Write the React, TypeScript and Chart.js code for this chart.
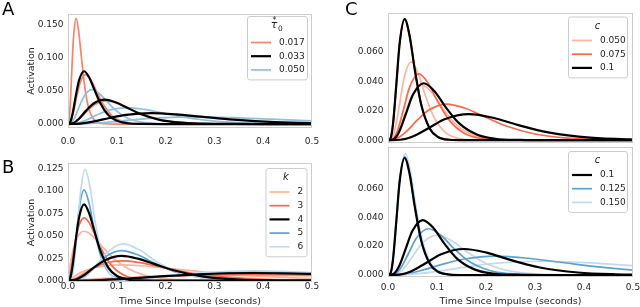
import React, { useEffect, useRef } from "react";
import { Chart, registerables } from "chart.js";
Chart.register(...registerables);

type Pt = [number, number];

// ---------- tick values & legend labels ----------
const xTickValues = [0, 0.1, 0.2, 0.3, 0.4, 0.5];
const aYTicks = [0, 0.05, 0.1, 0.15];
const bYTicks = [0, 0.025, 0.05, 0.075, 0.1, 0.125];
const cYTicks = [0, 0.02, 0.04, 0.06];
const aLegendLabels = ["0.017", "0.033", "0.050"];
const bLegendLabels = ["2", "3", "4", "5", "6"];
const cTopLegendLabels = ["0.050", "0.075", "0.1"];
const cBotLegendLabels = ["0.1", "0.125", "0.150"];
const yTitle = "Activation";
const xTitle = "Time Since Impulse (seconds)";

// ---------- Panel A (tau0*) ----------
const aRed1: Pt[] = [[0,0],[.0025,.0069],[.005,.0352],[.0083,.0896],[.0116,.1344],[.0165,.16],[.0215,.1424],[.0264,.1088],[.033,.064],[.0413,.0272],[.0495,.0107],[.0611,.0024],[.0743,.0004],[.099,0],[.6,0]];
const aRed2: Pt[] = [[0,0],[.0054,.0032],[.0108,.0165],[.018,.042],[.0252,.063],[.036,.075],[.0468,.0668],[.0576,.051],[.072,.03],[.09,.0128],[.108,.005],[.1332,.0011],[.162,.0002],[.216,0],[.6,0]];
const aRed3: Pt[] = [[0,0],[.0117,.0015],[.0234,.0077],[.039,.0196],[.0546,.0294],[.078,.035],[.1014,.0312],[.1248,.0238],[.156,.014],[.195,.006],[.234,.0023],[.2886,.0005],[.351,.0001],[.468,0],[.6,0]];
const aBlack1: Pt[] = [[0,0],[.005,.0034],[.0099,.0176],[.0165,.0448],[.0231,.0672],[.033,.08],[.0429,.0712],[.0528,.0544],[.066,.032],[.0825,.0136],[.099,.0054],[.1221,.0012],[.1485,.0002],[.198,0],[.6,0]];
const aBlack2: Pt[] = [[0,0],[.0113,.0016],[.0225,.0081],[.0375,.0207],[.0525,.0311],[.075,.037],[.0975,.0329],[.12,.0252],[.15,.0148],[.1875,.0063],[.225,.0025],[.2775,.0006],[.3375,.0001],[.45,0],[.6,0]];
const aBlack3: Pt[] = [[0,0],[.0255,.0007],[.051,.0036],[.085,.0092],[.119,.0139],[.17,.0165],[.221,.0147],[.272,.0112],[.34,.0066],[.425,.0028],[.51,.0011],[.629,.0002]];
const aBlue1: Pt[] = [[0,0],[.0074,.0022],[.0147,.0114],[.0245,.0291],[.0343,.0437],[.049,.052],[.0637,.0463],[.0784,.0354],[.098,.0208],[.1225,.0088],[.147,.0035],[.1813,.0008],[.2205,.0001],[.294,0],[.6,0]];
const aBlue2: Pt[] = [[0,0],[.018,.0011],[.036,.0055],[.06,.014],[.084,.021],[.12,.025],[.156,.0223],[.192,.017],[.24,.01],[.3,.0043],[.36,.0017],[.444,.0004],[.54,.0001]];
const aBlue3: Pt[] = [[0,0],[.039,.0005],[.078,.0024],[.13,.0062],[.182,.0092],[.26,.011],[.338,.0098],[.416,.0075],[.52,.0044],[.65,.0019]];

// ---------- Panel B (k) ----------
const bK2a: Pt[] = [[0,0],[.005,.0193],[.0099,.0332],[.0165,.0453],[.0231,.052],[.033,.055],[.0429,.053],[.0528,.0483],[.066,.0405],[.0825,.0307],[.099,.0223],[.1221,.0137],[.1485,.0075],[.198,.0022],[.264,.0004],[.396,0],[.6,0]];
const bK2b: Pt[] = [[0,0],[.0165,.0061],[.033,.0106],[.055,.0144],[.077,.0165],[.11,.0175],[.143,.0169],[.176,.0154],[.22,.0129],[.275,.0098],[.33,.0071],[.407,.0044],[.495,.0024],[.66,.0007],[.88,.0001]];
const bK2c: Pt[] = [[0,0],[.057,.0019],[.114,.0033],[.19,.0045],[.266,.0052],[.38,.0055],[.494,.0053],[.608,.0048],[.76,.004]];
const bK3a: Pt[] = [[0,0],[.005,.0086],[.0099,.0256],[.0165,.0476],[.0231,.0625],[.033,.07],[.0429,.0649],[.0528,.054],[.066,.0379],[.0825,.0218],[.099,.0116],[.1221,.0043],[.1485,.0013],[.198,.0001],[.6,0]];
const bK3b: Pt[] = [[0,0],[.0165,.0027],[.033,.008],[.055,.015],[.077,.0196],[.11,.022],[.143,.0204],[.176,.017],[.22,.0119],[.275,.0068],[.33,.0036],[.407,.0014],[.495,.0004],[.66,0]];
const bK3c: Pt[] = [[0,0],[.057,.0009],[.114,.0026],[.19,.0048],[.266,.0063],[.38,.007],[.494,.0065],[.608,.0054],[.76,.0038]];
const bK4a: Pt[] = [[0,0],[.005,.0037],[.0099,.0187],[.0165,.0476],[.0231,.0714],[.033,.085],[.0429,.0757],[.0528,.0578],[.066,.034],[.0825,.0145],[.099,.0057],[.1221,.0013],[.1485,.0002],[.198,0],[.6,0]];
const bK4b: Pt[] = [[0,0],[.0165,.0012],[.033,.0061],[.055,.0154],[.077,.0231],[.11,.0275],[.143,.0245],[.176,.0187],[.22,.011],[.275,.0047],[.33,.0018],[.407,.0004],[.495,.0001],[.66,0]];
const bK4c: Pt[] = [[0,0],[.057,.0004],[.114,.0019],[.19,.0048],[.266,.0071],[.38,.0085],[.494,.0076],[.608,.0058],[.76,.0034]];
const bK5a: Pt[] = [[0,0],[.005,.0015],[.0099,.0134],[.0165,.0465],[.0231,.0808],[.033,.101],[.0429,.0869],[.0528,.0596],[.066,.0293],[.0825,.0098],[.099,.0027],[.1221,.0004],[.1485,0],[.6,0]];
const bK5b: Pt[] = [[0,0],[.0165,.0005],[.033,.0045],[.055,.0154],[.077,.0268],[.11,.0335],[.143,.0288],[.176,.0198],[.22,.0097],[.275,.0032],[.33,.0009],[.407,.0001],[.495,0],[.66,0]];
const bK5c: Pt[] = [[0,0],[.057,.0001],[.114,.0013],[.19,.0044],[.266,.0076],[.38,.0095],[.494,.0082],[.608,.0056],[.76,.0028]];
const bK6a: Pt[] = [[0,0],[.0053,.0006],[.0105,.0099],[.0175,.0471],[.0245,.093],[.035,.124],[.0455,.1029],[.056,.0645],[.07,.0273],[.0875,.0067],[.105,.0014],[.1295,.0001],[.1575,0],[.6,0]];
const bK6b: Pt[] = [[0,0],[.017,.0002],[.0339,.0033],[.0565,.0156],[.0791,.0308],[.113,.041],[.1469,.034],[.1808,.0213],[.226,.009],[.2825,.0022],[.339,.0005],[.4181,0],[.66,0]];
const bK6c: Pt[] = [[0,0],[.057,.0001],[.114,.0009],[.19,.0042],[.266,.0083],[.38,.011],[.494,.0091],[.608,.0057],[.76,.0024]];

// ---------- Panel C top (c = 0.050, 0.075, 0.1) ----------
const cFirst: Pt[] = [[0,0],[.0051,.0012],[.0102,.0109],[.017,.0377],[.0238,.0656],[.034,.082],[.0442,.0705],[.0544,.0484],[.068,.0238],[.085,.008],[.102,.0022],[.1258,.0003],[.153,0],[.6,0]];
const cTopBlack2: Pt[] = [[0,0],[.011,.0006],[.0219,.0051],[.0365,.0178],[.0511,.0309],[.073,.0386],[.0949,.0332],[.1168,.0228],[.146,.0112],[.1825,.0037],[.219,.001],[.2701,.0002],[.3285,0],[.6,0]];
const cTopBlack3: Pt[] = [[0,0],[.0248,.0003],[.0495,.0024],[.0825,.0081],[.1155,.0142],[.165,.0177],[.2145,.0152],[.264,.0104],[.33,.0051],[.4125,.0017],[.495,.0005],[.6105,.0001]];
const cTopSalmon2: Pt[] = [[0,0],[.0071,.0008],[.0141,.007],[.0235,.0244],[.0329,.0424],[.047,.053],[.0611,.0456],[.0752,.0313],[.094,.0154],[.1175,.0051],[.141,.0014],[.1739,.0002],[.2115,0],[.6,0]];
const cTopSalmon3: Pt[] = [[0,0],[.0104,.0006],[.0207,.005],[.0345,.0173],[.0483,.03],[.069,.0375],[.0897,.0323],[.1104,.0221],[.138,.0109],[.1725,.0036],[.207,.001],[.2553,.0002],[.3105,0],[.6,0]];
const cTopRed2: Pt[] = [[0,0],[.0095,.0007],[.0189,.006],[.0315,.0207],[.0441,.036],[.063,.045],[.0819,.0387],[.1008,.0266],[.126,.0131],[.1575,.0044],[.189,.0012],[.2331,.0002],[.2835,0],[.6,0]];
const cTopRed3: Pt[] = [[0,0],[.018,.0011],[.036,.0054],[.06,.0137],[.084,.0206],[.12,.0245],[.156,.0218],[.192,.0167],[.24,.0098],[.3,.0042],[.36,.0016],[.444,.0004],[.54,.0001]];

// ---------- Panel C bottom (c = 0.1, 0.125, 0.150) ----------
const cBotBlack1: Pt[] = [[0,0],[.0051,.0012],[.0102,.0108],[.017,.0373],[.0238,.0648],[.034,.081],[.0442,.0697],[.0544,.0478],[.068,.0235],[.085,.0079],[.102,.0022],[.1258,.0003],[.153,0],[.6,0]];
const cBotBlack2: Pt[] = [[0,0],[.0107,.0006],[.0213,.0051],[.0355,.0175],[.0497,.0304],[.071,.038],[.0923,.0327],[.1136,.0224],[.142,.011],[.1775,.0037],[.213,.001],[.2627,.0002],[.3195,0],[.6,0]];
const cBotBlack3: Pt[] = [[0,0],[.0233,.0003],[.0465,.0024],[.0775,.0083],[.1085,.0144],[.155,.018],[.2015,.0155],[.248,.0106],[.31,.0052],[.3875,.0017],[.465,.0005],[.5735,.0001]];
const cBotBlue2: Pt[] = [[0,0],[.0125,.0005],[.0249,.0043],[.0415,.0147],[.0581,.0256],[.083,.032],[.1079,.0275],[.1328,.0189],[.166,.0093],[.2075,.0031],[.249,.0009],[.3071,.0001],[.3735,0],[.6,0]];
const cBotBlue3: Pt[] = [[0,0],[.033,.0006],[.066,.0029],[.11,.0073],[.154,.0109],[.22,.013],[.286,.0116],[.352,.0088],[.44,.0052],[.55,.0022],[.66,.0009]];
const cBotLight1: Pt[] = [[0,0],[.0053,.0013],[.0105,.0112],[.0175,.0386],[.0245,.0672],[.035,.084],[.0455,.0722],[.056,.0496],[.07,.0244],[.0875,.0081],[.105,.0023],[.1295,.0003],[.1575,0],[.6,0]];
const cBotLight2: Pt[] = [[0,0],[.015,.0004],[.03,.0037],[.05,.0127],[.07,.0221],[.1,.0276],[.13,.0237],[.16,.0163],[.2,.008],[.25,.0027],[.3,.0007],[.37,.0001],[.45,0],[.6,0]];
const cBotLight3: Pt[] = [[0,0],[.0465,.0004],[.093,.0021],[.155,.0053],[.217,.008],[.31,.0095],[.403,.0085],[.496,.0065],[.62,.0038]];

// ---------- styles ----------
const FONT = "'DejaVu Sans', sans-serif";
const TEXT = "#262626";
const EDGE = "#cccccc";
const BLACK = "#000000";
const A_RED = "#f6836a";
const A_BLUE = "#8ec0e2";
const SALMON = "#fcb49a";
const RED = "#f8694b";
const BLUE = "#5aa3d1";
const LIGHTBLUE = "#c2daef";
const LW_BLACK = 2.2;
const LW = 1.7;

type Series = { data: Pt[]; color: string; width: number };
type LegendSpec = {
  left: number; top: number; width: number; firstOffset: number;
  title: (ctx: CanvasRenderingContext2D, cx: number, top: number) => void;
  labels: string[]; colors: string[]; widths: number[];
};
type PanelSpec = {
  left: number; top: number; width: number; height: number;
  padding: { top: number; right: number; bottom: number; left: number };
  yWidth: number; xHeight: number; showXTicks: boolean; xTickPad: number;
  yMin: number; yMax: number; yTicks: number[]; yDigits: number;
  yTitle?: string; xTitle?: string;
  series: Series[]; // bottom -> top drawing order
  legend: LegendSpec;
};

const italicTitle = (txt: string, dy: number) => (ctx: CanvasRenderingContext2D, cx: number, top: number) => {
  ctx.font = `italic 10px ${FONT}`;
  ctx.fillStyle = TEXT;
  ctx.textAlign = "center";
  ctx.textBaseline = "middle";
  ctx.fillText(txt, cx, top + dy);
};

const tauTitle = (ctx: CanvasRenderingContext2D, cx: number, top: number) => {
  ctx.fillStyle = TEXT;
  ctx.textAlign = "center";
  ctx.textBaseline = "middle";
  ctx.font = `italic 11px ${FONT}`;
  ctx.fillText("τ", cx - 3, top + 9.5);
  ctx.font = `8px ${FONT}`;
  ctx.fillText("*", cx - 2.5, top + 5);
  ctx.font = `7.5px ${FONT}`;
  ctx.fillText("0", cx + 3.5, top + 13);
};

const panels: PanelSpec[] = [
  {
    left: 0, top: 0, width: 320, height: 150,
    padding: { top: 14, right: 8, bottom: 0, left: 0 },
    yWidth: 68, xHeight: 22, showXTicks: true, xTickPad: 9,
    yMin: -0.006, yMax: 0.1667, yTicks: aYTicks, yDigits: 3, yTitle,
    series: [
      { data: aRed1, color: A_RED, width: LW }, { data: aRed2, color: A_RED, width: LW }, { data: aRed3, color: A_RED, width: LW },
      { data: aBlue1, color: A_BLUE, width: LW }, { data: aBlue2, color: A_BLUE, width: LW }, { data: aBlue3, color: A_BLUE, width: LW },
      { data: aBlack1, color: BLACK, width: LW_BLACK }, { data: aBlack2, color: BLACK, width: LW_BLACK }, { data: aBlack3, color: BLACK, width: LW_BLACK },
    ],
    legend: { left: 247, top: 16, width: 60, firstOffset: 26.5, title: tauTitle, labels: aLegendLabels, colors: [A_RED, BLACK, A_BLUE], widths: [LW, LW_BLACK, LW] },
  },
  {
    left: 0, top: 150, width: 320, height: 157,
    padding: { top: 13, right: 8, bottom: 0, left: 0 },
    yWidth: 68, xHeight: 25, showXTicks: true, xTickPad: 0,
    yMin: -0.0015, yMax: 0.131, yTicks: bYTicks, yDigits: 3, yTitle, xTitle,
    series: [
      { data: bK2a, color: SALMON, width: LW }, { data: bK2b, color: SALMON, width: LW }, { data: bK2c, color: SALMON, width: LW },
      { data: bK3a, color: RED, width: LW }, { data: bK3b, color: RED, width: LW }, { data: bK3c, color: RED, width: LW },
      { data: bK5a, color: BLUE, width: LW }, { data: bK5b, color: BLUE, width: LW }, { data: bK5c, color: BLUE, width: LW },
      { data: bK6a, color: LIGHTBLUE, width: LW }, { data: bK6b, color: LIGHTBLUE, width: LW }, { data: bK6c, color: LIGHTBLUE, width: LW },
      { data: bK4a, color: BLACK, width: LW_BLACK }, { data: bK4b, color: BLACK, width: LW_BLACK }, { data: bK4c, color: BLACK, width: LW_BLACK },
    ],
    legend: { left: 265.5, top: 18, width: 41, firstOffset: 24, title: italicTitle("k", 9.5), labels: bLegendLabels, colors: [SALMON, RED, BLACK, BLUE, LIGHTBLUE], widths: [LW, LW, LW_BLACK, LW, LW] },
  },
  {
    left: 320, top: 0, width: 320, height: 145,
    padding: { top: 13, right: 7, bottom: 0, left: 0 },
    yWidth: 68, xHeight: 2, showXTicks: false, xTickPad: 0,
    yMin: -0.0019, yMax: 0.0862, yTicks: cYTicks, yDigits: 3,
    series: [
      { data: cFirst, color: SALMON, width: LW }, { data: cTopSalmon2, color: SALMON, width: LW }, { data: cTopSalmon3, color: SALMON, width: LW },
      { data: cFirst, color: RED, width: LW }, { data: cTopRed2, color: RED, width: LW }, { data: cTopRed3, color: RED, width: LW },
      { data: cFirst, color: BLACK, width: LW_BLACK }, { data: cTopBlack2, color: BLACK, width: LW_BLACK }, { data: cTopBlack3, color: BLACK, width: LW_BLACK },
    ],
    legend: { left: 248, top: 16.5, width: 59, firstOffset: 24, title: italicTitle("c", 10), labels: cTopLegendLabels, colors: [SALMON, RED, BLACK], widths: [LW, LW, LW_BLACK] },
  },
  {
    left: 320, top: 145, width: 320, height: 162,
    padding: { top: 2, right: 7, bottom: 0, left: 0 },
    yWidth: 68, xHeight: 30, showXTicks: true, xTickPad: 6,
    yMin: -0.0014, yMax: 0.0886, yTicks: cYTicks, yDigits: 3, xTitle,
    series: [
      { data: cBotLight1, color: LIGHTBLUE, width: LW }, { data: cBotLight2, color: LIGHTBLUE, width: LW }, { data: cBotLight3, color: LIGHTBLUE, width: LW },
      { data: cFirst, color: BLUE, width: LW }, { data: cBotBlue2, color: BLUE, width: LW }, { data: cBotBlue3, color: BLUE, width: LW },
      { data: cBotBlack1, color: BLACK, width: LW_BLACK }, { data: cBotBlack2, color: BLACK, width: LW_BLACK }, { data: cBotBlack3, color: BLACK, width: LW_BLACK },
    ],
    legend: { left: 248, top: 6, width: 59, firstOffset: 24, title: italicTitle("c", 9.5), labels: cBotLegendLabels, colors: [BLACK, BLUE, LIGHTBLUE], widths: [LW_BLACK, LW, LW] },
  },
];

const SPACING = 13.7;

function makePlugins(spec: PanelSpec) {
  const frame = {
    id: "frame",
    afterDatasetsDraw(chart: any) {
      const { ctx, chartArea: a } = chart;
      ctx.save();
      ctx.strokeStyle = EDGE;
      ctx.lineWidth = 1;
      const l = Math.round(a.left), t = Math.round(a.top), r = Math.round(a.right), b = Math.round(a.bottom);
      ctx.strokeRect(l + 0.5, t + 0.5, r - l - 1, b - t - 1);
      ctx.restore();
    },
  };
  const legend = {
    id: "customLegend",
    afterDraw(chart: any) {
      const ctx: CanvasRenderingContext2D = chart.ctx;
      const L = spec.legend;
      const n = L.labels.length;
      const h = L.firstOffset + (n - 1) * SPACING + 9.5;
      const x = L.left + 0.5, y = L.top + 0.5, w = L.width, rr = 2.5;
      ctx.save();
      ctx.beginPath();
      ctx.moveTo(x + rr, y);
      ctx.arcTo(x + w, y, x + w, y + h, rr);
      ctx.arcTo(x + w, y + h, x, y + h, rr);
      ctx.arcTo(x, y + h, x, y, rr);
      ctx.arcTo(x, y, x + w, y, rr);
      ctx.closePath();
      ctx.fillStyle = "rgba(255,255,255,0.8)";
      ctx.fill();
      ctx.strokeStyle = EDGE;
      ctx.lineWidth = 1;
      ctx.stroke();
      L.title(ctx, L.left + L.width / 2, L.top);
      for (let i = 0; i < n; i++) {
        const yy = L.top + L.firstOffset + i * SPACING;
        ctx.beginPath();
        ctx.strokeStyle = L.colors[i];
        ctx.lineWidth = L.widths[i];
        ctx.moveTo(L.left + 4, yy);
        ctx.lineTo(L.left + 24, yy);
        ctx.stroke();
        ctx.fillStyle = TEXT;
        ctx.font = `9px ${FONT}`;
        ctx.textAlign = "left";
        ctx.textBaseline = "middle";
        ctx.fillText(L.labels[i], L.left + 32, yy);
      }
      ctx.restore();
    },
  };
  return [frame, legend];
}

function Panel({ spec }: { spec: PanelSpec }) {
  const ref = useRef<HTMLCanvasElement>(null);
  useEffect(() => {
    if (!ref.current) return;
    const tickFont = { family: FONT, size: 9, lineHeight: 1 };
    const titleFont = { family: FONT, size: 9.5 };
    const datasets = [...spec.series].reverse().map((s) => ({
      data: s.data as any,
      borderColor: s.color,
      borderWidth: s.width,
      pointRadius: 0,
      fill: false,
      cubicInterpolationMode: "monotone" as const,
      borderCapStyle: "round" as const,
      borderJoinStyle: "round" as const,
    }));
    const chart = new Chart(ref.current, {
      type: "line",
      data: { datasets },
      options: {
        animation: false,
        responsive: false,
        events: [],
        layout: { padding: spec.padding },
        plugins: { legend: { display: false }, tooltip: { enabled: false } },
        scales: {
          x: {
            type: "linear",
            min: 0,
            max: 0.5,
            grid: { display: false, drawTicks: false },
            border: { display: false },
            ticks: {
              display: spec.showXTicks,
              padding: spec.xTickPad,
              font: tickFont,
              color: TEXT,
              maxRotation: 0,
              autoSkip: false,
              callback: (v: any) => Number(v).toFixed(1),
            },
            title: {
              display: !!spec.xTitle,
              text: spec.xTitle || "",
              font: titleFont,
              color: TEXT,
              padding: { top: 0, bottom: 0 },
            },
            afterBuildTicks: (s: any) => {
              s.ticks = xTickValues.map((v) => ({ value: v }));
            },
            afterFit: (s: any) => {
              s.height = spec.xHeight;
              s.paddingLeft = 0;
              s.paddingRight = 0;
            },
          },
          y: {
            type: "linear",
            min: spec.yMin,
            max: spec.yMax,
            grid: { display: false, drawTicks: false },
            border: { display: false },
            ticks: {
              padding: 4.5,
              font: tickFont,
              color: TEXT,
              autoSkip: false,
              callback: (v: any) => Number(v).toFixed(spec.yDigits),
            },
            title: {
              display: !!spec.yTitle,
              text: spec.yTitle || "",
              font: titleFont,
              color: TEXT,
              padding: { top: 26, bottom: 0 },
            },
            afterBuildTicks: (s: any) => {
              s.ticks = spec.yTicks.map((v) => ({ value: v }));
            },
            afterFit: (s: any) => {
              s.width = spec.yWidth;
              s.paddingTop = 0;
              s.paddingBottom = 0;
            },
          },
        },
      } as any,
      plugins: makePlugins(spec) as any,
    });
    return () => chart.destroy();
  }, [spec]);
  return (
    <canvas
      ref={ref}
      width={spec.width}
      height={spec.height}
      style={{ position: "absolute", left: spec.left, top: spec.top, width: spec.width, height: spec.height }}
    />
  );
}

const letterStyle = (left: number, top: number): React.CSSProperties => ({
  position: "absolute",
  left,
  top,
  fontFamily: FONT,
  fontSize: 18,
  lineHeight: "18px",
  color: "#000",
});

export default function App() {
  return (
    <div style={{ position: "absolute", left: 0, top: 0, width: 640, height: 307, background: "#fff", overflow: "hidden" }}>
      {panels.map((p, i) => (
        <Panel key={i} spec={p} />
      ))}
      <div style={letterStyle(2, 0)}>A</div>
      <div style={letterStyle(2, 158)}>B</div>
      <div style={letterStyle(345, 0)}>C</div>
    </div>
  );
}
